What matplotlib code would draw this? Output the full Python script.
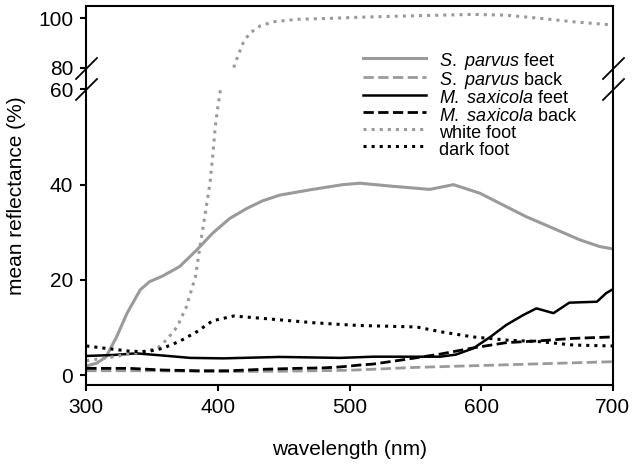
import numpy as np
import matplotlib
matplotlib.use("Agg")
import matplotlib.pyplot as plt

plt.rcParams["font.family"] = ["Liberation Sans", "DejaVu Sans"]
plt.rcParams["mathtext.fontset"] = "custom"
plt.rcParams["mathtext.rm"] = "Liberation Sans"
plt.rcParams["mathtext.it"] = "Liberation Sans:italic"

# S. parvus feet
wl_sp_feet = [300, 308, 315, 323, 331, 341, 348, 358, 371, 384, 396, 409, 422, 434,
              447, 472, 495, 508, 531, 561, 579, 599, 614, 634, 655, 675, 690, 700]
sp_feet = [1.9, 2.5, 3.8, 8.0, 13.0, 17.9, 19.6, 20.8, 22.8, 26.3, 29.8, 32.9, 35.0, 36.6,
           37.8, 39.0, 40.0, 40.3, 39.7, 39.0, 40.0, 38.2, 36.1, 33.3, 30.8, 28.4, 27.0, 26.5]

# S. parvus back
wl_sp_back = [300, 350, 400, 450, 500, 550, 600, 650, 700]
sp_back = [0.9, 0.9, 0.7, 0.8, 1.0, 1.6, 2.0, 2.4, 2.8]

# M. saxicola feet
wl_ms_feet = [300, 320, 338, 358, 379, 404, 447, 493, 518, 543, 569, 581, 594, 607,
              619, 632, 642, 655, 667, 688, 695, 700]
ms_feet = [4.0, 4.2, 4.55, 4.1, 3.6, 3.5, 3.8, 3.6, 3.85, 3.85, 3.85, 4.3, 5.6, 8.0,
           10.5, 12.6, 14.0, 13.0, 15.2, 15.4, 17.2, 18.0]

# M. saxicola back
wl_ms_back = [300, 333, 358, 384, 409, 434, 460, 480, 493, 508, 518, 543, 569, 594,
              619, 645, 670, 700]
ms_back = [1.4, 1.4, 1.05, 0.9, 0.9, 1.2, 1.4, 1.5, 1.7, 2.1, 2.3, 3.3, 4.4, 5.7,
           6.8, 7.2, 7.7, 8.0]

# white foot, below and above the axis break
wl_white_lo = [300, 320, 338, 354, 361, 369, 376, 383, 386, 390, 394, 396.5, 398, 400, 402]
white_lo = [3.0, 3.8, 4.7, 5.6, 7.4, 10.1, 14.3, 20.7, 26.3, 33.3, 40.3, 47.3, 52.2, 56.4, 60]
wl_white_hi = [412, 415.5, 419, 424, 432, 442, 460, 485, 505, 530, 569, 594, 619, 645, 670, 700]
white_hi = [80, 85.1, 89.8, 93.9, 96.9, 98.6, 99.6, 100.0, 100.4, 100.8, 101.3, 101.6,
            101.3, 100.0, 98.6, 97.3]

# dark foot
wl_dark = [300, 315, 333, 346, 358, 371, 384, 396, 412, 434, 472, 495, 508, 551,
           569, 594, 619, 645, 670, 700]
dark = [6.1, 5.6, 5.0, 4.9, 5.6, 7.1, 9.1, 11.4, 12.4, 11.9, 11.0, 10.6, 10.4, 10.1,
        9.1, 8.0, 7.35, 7.0, 6.3, 6.1]

yticks = [0, 20, 40, 60, 80, 100]
xticks = [300, 400, 500, 600, 700]

# piecewise y scale: 0-60 stretched, 60-80 squeezed, 80+ half scale
_yd = [-50, 0, 60, 80, 100, 200]
_yp = [-238.0, 0.0, 285.6, 307.5, 356.7, 602.7]


def _fwd(v):
    return np.interp(v, _yd, _yp)


def _inv(p):
    return np.interp(p, _yp, _yd)


GRAY = "#9a9a9a"

fig = plt.figure(figsize=(6.42, 4.65), dpi=100)
ax = fig.add_axes([0.1344, 0.172, 0.82, 0.815])
ax.set_yscale("function", functions=(_fwd, _inv))

ax.plot(wl_sp_feet, sp_feet, color=GRAY, lw=2.2, label=r"$\it{S.\ parvus}$ feet")
ax.plot(wl_sp_back, sp_back, color=GRAY, lw=2.0, ls="--", label=r"$\it{S.\ parvus}$ back")
ax.plot(wl_ms_feet, ms_feet, color="black", lw=1.8, label=r"$\it{M.\ saxicola}$ feet")
ax.plot(wl_ms_back, ms_back, color="black", lw=2.0, ls="--", label=r"$\it{M.\ saxicola}$ back")
ax.plot(wl_white_lo, white_lo, color=GRAY, lw=2.2, ls=":", label="white foot")
ax.plot(wl_white_hi, white_hi, color=GRAY, lw=2.2, ls=":")
ax.plot(wl_dark, dark, color="black", lw=2.2, ls=":", label="dark foot")

ax.set_xlim(300, 700)
ax.set_ylim(-2.1, 105)
ax.set_xticks(xticks)
ax.set_yticks(yticks)
ax.tick_params(labelsize=15, width=1.5, length=4.5, pad=5)
for t in ax.yaxis.get_major_ticks():
    if t.get_loc() in (60, 80):
        t.tick1line.set_visible(False)
for s in ax.spines.values():
    s.set_linewidth(1.5)

# break marks on both spines
brk = dict(marker=[(-1, -1), (1, 1)], markersize=16, linestyle="none",
           color="black", mec="black", mew=1.3, clip_on=False)
for xa in (0, 1):
    ax.plot([xa, xa], [60, 80], transform=ax.get_yaxis_transform(), **brk)

ax.set_xlabel("wavelength (nm)", fontsize=15)
ax.set_ylabel("mean reflectance (%)", fontsize=15)
ax.xaxis.set_label_coords(0.5, -0.146)
ax.yaxis.set_label_coords(-0.114, 0.5)

ax.legend(loc="upper left", bbox_to_anchor=(0.565, 0.893), bbox_transform=fig.transFigure,
          frameon=False, fontsize=13, handlelength=3.5, handletextpad=0.75,
          handleheight=1.4, labelspacing=-0.21, borderpad=0, borderaxespad=0)

fig.savefig("out.png", dpi=100)
